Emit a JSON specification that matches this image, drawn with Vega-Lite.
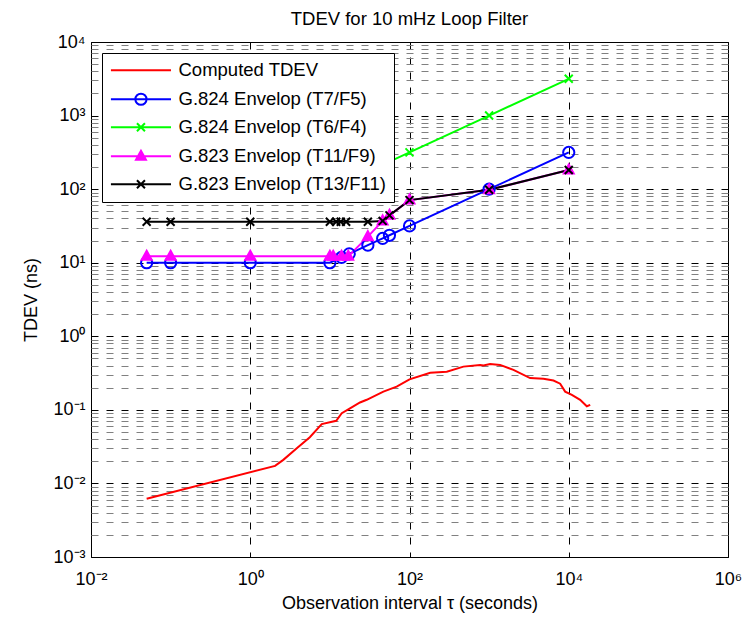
{
  "$schema": "https://vega.github.io/schema/vega-lite/v6.json",
  "width": 637,
  "height": 515,
  "autosize": {"type": "none"},
  "padding": {"left": 91, "top": 42, "right": 24, "bottom": 63},
  "background": "white",
  "title": {"text": "TDEV for 10 mHz Loop Filter", "fontSize": 18.5, "fontWeight": "normal", "offset": 2, "dy": 16, "baseline": "bottom", "anchor": "middle", "frame": "group", "color": "black"},
  "config": {
    "font": "Liberation Sans",
    "view": {"stroke": "black", "strokeWidth": 1},
    "axis": {"labelColor": "black", "titleColor": "black", "labelFontSize": 18, "titleFontSize": 18, "titleFontWeight": "normal", "labelFont": "Liberation Sans", "titleFont": "Liberation Sans"},
    "legend": {"labelColor": "black", "labelFont": "Liberation Sans"}
  },
  "data": {"values": [
    {"series": "Computed TDEV", "tau": 0.05, "tdev": 0.0062},
    {"series": "Computed TDEV", "tau": 2.05, "tdev": 0.0173},
    {"series": "Computed TDEV", "tau": 2.6, "tdev": 0.0209},
    {"series": "Computed TDEV", "tau": 3.84, "tdev": 0.030},
    {"series": "Computed TDEV", "tau": 5.6, "tdev": 0.0425},
    {"series": "Computed TDEV", "tau": 7.9, "tdev": 0.064},
    {"series": "Computed TDEV", "tau": 12, "tdev": 0.071},
    {"series": "Computed TDEV", "tau": 14.1, "tdev": 0.090},
    {"series": "Computed TDEV", "tau": 17.9, "tdev": 0.105},
    {"series": "Computed TDEV", "tau": 23.9, "tdev": 0.126},
    {"series": "Computed TDEV", "tau": 29, "tdev": 0.137},
    {"series": "Computed TDEV", "tau": 47, "tdev": 0.177},
    {"series": "Computed TDEV", "tau": 69, "tdev": 0.207},
    {"series": "Computed TDEV", "tau": 100, "tdev": 0.26},
    {"series": "Computed TDEV", "tau": 182, "tdev": 0.32},
    {"series": "Computed TDEV", "tau": 294, "tdev": 0.33},
    {"series": "Computed TDEV", "tau": 475, "tdev": 0.387},
    {"series": "Computed TDEV", "tau": 771, "tdev": 0.408},
    {"series": "Computed TDEV", "tau": 850, "tdev": 0.40},
    {"series": "Computed TDEV", "tau": 1030, "tdev": 0.42},
    {"series": "Computed TDEV", "tau": 1374, "tdev": 0.408},
    {"series": "Computed TDEV", "tau": 2020, "tdev": 0.349},
    {"series": "Computed TDEV", "tau": 3270, "tdev": 0.27},
    {"series": "Computed TDEV", "tau": 4810, "tdev": 0.264},
    {"series": "Computed TDEV", "tau": 6430, "tdev": 0.25},
    {"series": "Computed TDEV", "tau": 7800, "tdev": 0.227},
    {"series": "Computed TDEV", "tau": 9010, "tdev": 0.177},
    {"series": "Computed TDEV", "tau": 10940, "tdev": 0.16},
    {"series": "Computed TDEV", "tau": 13900, "tdev": 0.137},
    {"series": "Computed TDEV", "tau": 16860, "tdev": 0.112},
    {"series": "Computed TDEV", "tau": 18600, "tdev": 0.117},
    {"series": "G.824 Envelop (T7/F5)", "tau": 0.05, "tdev": 10},
    {"series": "G.824 Envelop (T7/F5)", "tau": 0.1, "tdev": 10},
    {"series": "G.824 Envelop (T7/F5)", "tau": 1, "tdev": 10},
    {"series": "G.824 Envelop (T7/F5)", "tau": 10, "tdev": 10},
    {"series": "G.824 Envelop (T7/F5)", "tau": 14, "tdev": 11.8},
    {"series": "G.824 Envelop (T7/F5)", "tau": 17.5, "tdev": 13.2},
    {"series": "G.824 Envelop (T7/F5)", "tau": 30, "tdev": 17.3},
    {"series": "G.824 Envelop (T7/F5)", "tau": 46, "tdev": 21.4},
    {"series": "G.824 Envelop (T7/F5)", "tau": 56, "tdev": 23.6},
    {"series": "G.824 Envelop (T7/F5)", "tau": 100, "tdev": 31.6},
    {"series": "G.824 Envelop (T7/F5)", "tau": 1000, "tdev": 100},
    {"series": "G.824 Envelop (T7/F5)", "tau": 10000, "tdev": 316},
    {"series": "G.824 Envelop (T6/F4)", "tau": 0.05, "tdev": 100},
    {"series": "G.824 Envelop (T6/F4)", "tau": 0.1, "tdev": 100},
    {"series": "G.824 Envelop (T6/F4)", "tau": 1, "tdev": 100},
    {"series": "G.824 Envelop (T6/F4)", "tau": 10, "tdev": 100},
    {"series": "G.824 Envelop (T6/F4)", "tau": 14, "tdev": 118},
    {"series": "G.824 Envelop (T6/F4)", "tau": 17.5, "tdev": 132},
    {"series": "G.824 Envelop (T6/F4)", "tau": 30, "tdev": 173},
    {"series": "G.824 Envelop (T6/F4)", "tau": 46, "tdev": 214},
    {"series": "G.824 Envelop (T6/F4)", "tau": 56, "tdev": 236},
    {"series": "G.824 Envelop (T6/F4)", "tau": 100, "tdev": 316},
    {"series": "G.824 Envelop (T6/F4)", "tau": 1000, "tdev": 1000},
    {"series": "G.824 Envelop (T6/F4)", "tau": 10000, "tdev": 3162},
    {"series": "G.823 Envelop (T11/F9)", "tau": 0.05, "tdev": 12.2},
    {"series": "G.823 Envelop (T11/F9)", "tau": 0.1, "tdev": 12.2},
    {"series": "G.823 Envelop (T11/F9)", "tau": 1, "tdev": 12.2},
    {"series": "G.823 Envelop (T11/F9)", "tau": 10, "tdev": 12.2},
    {"series": "G.823 Envelop (T11/F9)", "tau": 11, "tdev": 12.2},
    {"series": "G.823 Envelop (T11/F9)", "tau": 14, "tdev": 12.2},
    {"series": "G.823 Envelop (T11/F9)", "tau": 17, "tdev": 12.2},
    {"series": "G.823 Envelop (T11/F9)", "tau": 30, "tdev": 22.6},
    {"series": "G.823 Envelop (T11/F9)", "tau": 46, "tdev": 37},
    {"series": "G.823 Envelop (T11/F9)", "tau": 56, "tdev": 44},
    {"series": "G.823 Envelop (T11/F9)", "tau": 100, "tdev": 71},
    {"series": "G.823 Envelop (T11/F9)", "tau": 1000, "tdev": 98},
    {"series": "G.823 Envelop (T11/F9)", "tau": 10000, "tdev": 182},
    {"series": "G.823 Envelop (T13/F11)", "tau": 0.05, "tdev": 36},
    {"series": "G.823 Envelop (T13/F11)", "tau": 0.1, "tdev": 36},
    {"series": "G.823 Envelop (T13/F11)", "tau": 1, "tdev": 36},
    {"series": "G.823 Envelop (T13/F11)", "tau": 10, "tdev": 36},
    {"series": "G.823 Envelop (T13/F11)", "tau": 12, "tdev": 36},
    {"series": "G.823 Envelop (T13/F11)", "tau": 13.7, "tdev": 36},
    {"series": "G.823 Envelop (T13/F11)", "tau": 16, "tdev": 36},
    {"series": "G.823 Envelop (T13/F11)", "tau": 30, "tdev": 36},
    {"series": "G.823 Envelop (T13/F11)", "tau": 46, "tdev": 37},
    {"series": "G.823 Envelop (T13/F11)", "tau": 56, "tdev": 44},
    {"series": "G.823 Envelop (T13/F11)", "tau": 100, "tdev": 71},
    {"series": "G.823 Envelop (T13/F11)", "tau": 1000, "tdev": 98},
    {"series": "G.823 Envelop (T13/F11)", "tau": 10000, "tdev": 182}
  ]},
  "encoding": {
    "x": {"field": "tau", "type": "quantitative",
      "scale": {"type": "log", "domain": [0.01, 1000000], "nice": false},
      "axis": {"title": "Observation interval τ (seconds)", "values": [0.01, 1, 100, 10000, 1000000],
        "labelExpr": "'10' + ['⁻³','⁻²','⁻¹','⁰','¹','²','³','⁴','⁵','⁶'][round(log(datum.value)/LN10)+3]",
        "grid": true, "gridColor": "black", "gridDash": [7, 8], "gridWidth": 1,
        "ticks": false, "domain": false, "labelFlush": false, "labelOverlap": false,
        "labelPadding": 13, "titlePadding": 6}},
    "y": {"field": "tdev", "type": "quantitative",
      "scale": {"type": "log", "domain": [0.001, 10000], "nice": false},
      "axis": {"title": "TDEV (ns)",
        "values": [0.001,0.002,0.003,0.004,0.005,0.006,0.007,0.008,0.009,0.01,0.02,0.03,0.04,0.05,0.06,0.07,0.08,0.09,0.1,0.2,0.3,0.4,0.5,0.6,0.7,0.8,0.9,1,2,3,4,5,6,7,8,9,10,20,30,40,50,60,70,80,90,100,200,300,400,500,600,700,800,900,1000,2000,3000,4000,5000,6000,7000,8000,9000,10000],
        "labelExpr": "abs(log(datum.value)/LN10 - round(log(datum.value)/LN10)) < 0.001 ? '10' + ['⁻³','⁻²','⁻¹','⁰','¹','²','³','⁴','⁵','⁶'][round(log(datum.value)/LN10)+3] : ''",
        "grid": true,
        "gridColor": {"condition": {"test": "abs(log(datum.value)/LN10 - round(log(datum.value)/LN10)) < 0.001", "value": "#000000"}, "value": "#808080"},
        "gridDash": [7, 8], "gridWidth": 1,
        "ticks": false, "domain": false, "labelFlush": false, "labelOverlap": false,
        "labelPadding": 6, "titlePadding": 12}}
  },
  "layer": [
    {
      "mark": {"type": "line", "strokeWidth": 2, "clip": true},
      "encoding": {
        "color": {"field": "series", "type": "nominal",
          "scale": {"domain": ["Computed TDEV", "G.824 Envelop (T7/F5)", "G.824 Envelop (T6/F4)", "G.823 Envelop (T11/F9)", "G.823 Envelop (T13/F11)"],
                    "range": ["#ff0000", "#0000ff", "#00ff00", "#ff00ff", "#000000"]},
          "legend": {"title": null, "orient": "none", "legendX": 11, "legendY": 11,
            "fillColor": "white", "strokeColor": "black", "padding": 8, "cornerRadius": 0,
            "labelFontSize": 18.5, "rowPadding": 9, "symbolSize": 196, "symbolStrokeWidth": 2,
            "symbolOffset": 21.7, "labelOffset": 28.3, "labelLimit": 400,
            "encoding": {"symbols": {
              "shape": {"condition": [
                {"test": "datum.value === 'Computed TDEV'", "value": "M-4.29,0L4.29,0"},
                {"test": "datum.value === 'G.824 Envelop (T7/F5)'", "value": "M-4.29,0L4.29,0M0.8,0A0.8,0.8,0,1,1,-0.8,0A0.8,0.8,0,1,1,0.8,0"},
                {"test": "datum.value === 'G.823 Envelop (T11/F9)'", "value": "M-4.29,0L4.29,0M0,-0.79L0.71,0.5L-0.71,0.5Z"}
              ], "value": "M-4.29,0L4.29,0M-0.57,-0.57L0.57,0.57M-0.57,0.57L0.57,-0.57"},
              "fill": {"condition": {"test": "datum.value === 'G.823 Envelop (T11/F9)'", "value": "#ff00ff"}, "value": "transparent"}
            }}}
        }
      }
    },
    {
      "transform": [{"filter": "datum.series !== 'Computed TDEV'"}],
      "mark": {"type": "point", "filled": false, "strokeWidth": 2, "size": 196, "opacity": 1, "clip": true},
      "encoding": {
        "color": {"field": "series", "type": "nominal", "legend": null},
        "shape": {"field": "series", "type": "nominal", "legend": null,
          "scale": {"domain": ["G.824 Envelop (T7/F5)", "G.824 Envelop (T6/F4)", "G.823 Envelop (T11/F9)", "G.823 Envelop (T13/F11)"],
            "range": ["M0.8,0A0.8,0.8,0,1,1,-0.8,0A0.8,0.8,0,1,1,0.8,0", "M-0.57,-0.57L0.57,0.57M-0.57,0.57L0.57,-0.57", "M0,-0.79L0.71,0.5L-0.71,0.5Z", "M-0.57,-0.57L0.57,0.57M-0.57,0.57L0.57,-0.57"]}},
        "fill": {"field": "series", "type": "nominal", "legend": null,
          "scale": {"domain": ["G.824 Envelop (T7/F5)", "G.824 Envelop (T6/F4)", "G.823 Envelop (T11/F9)", "G.823 Envelop (T13/F11)"],
            "range": ["transparent", "transparent", "#ff00ff", "transparent"]}}
      }
    }
  ]
}
